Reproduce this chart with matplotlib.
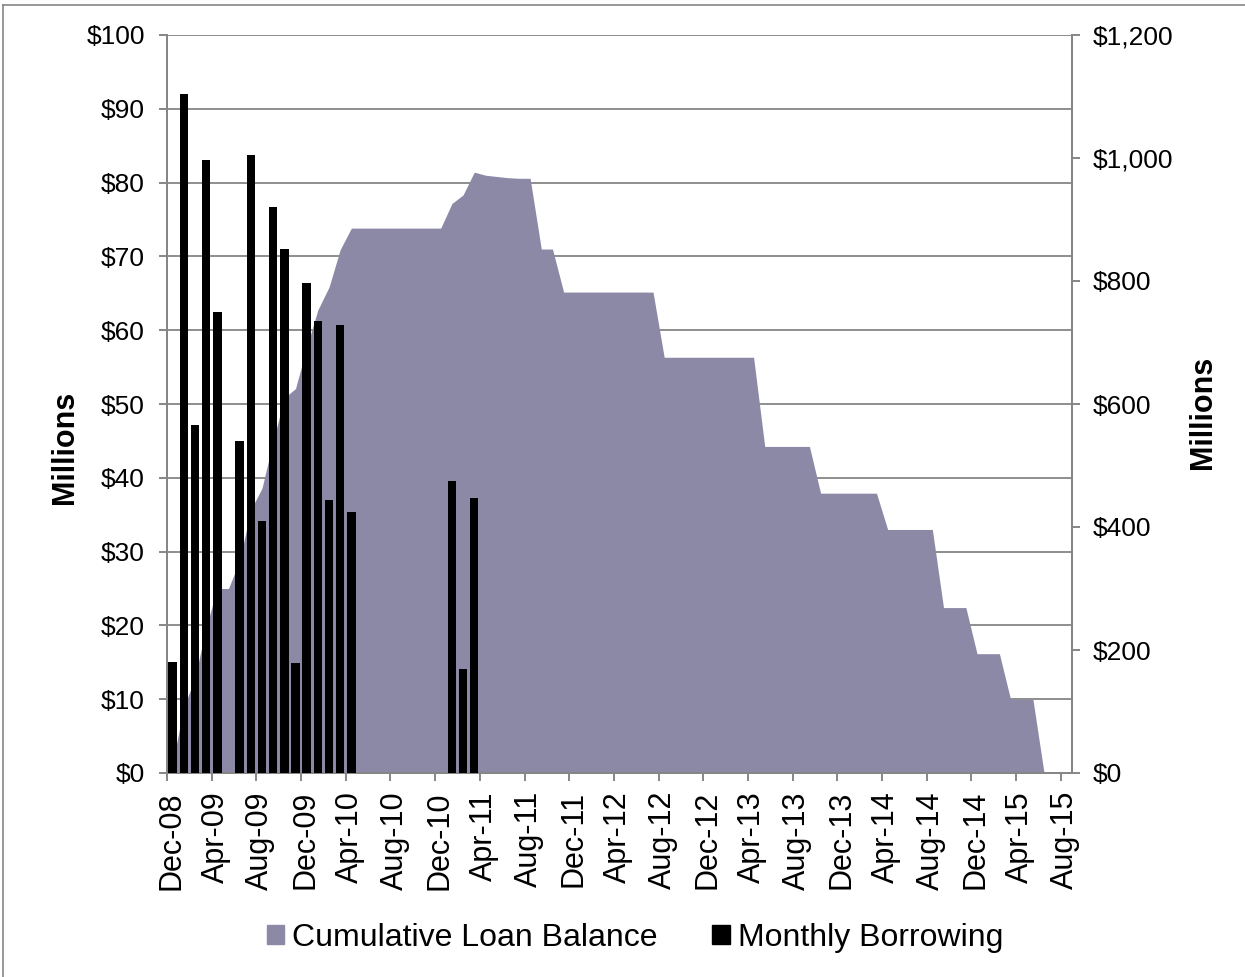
import matplotlib
matplotlib.use('Agg')
import matplotlib.pyplot as plt
import matplotlib.transforms as mtransforms
from matplotlib.patches import Patch
from matplotlib.lines import Line2D

plt.rcParams['font.family'] = ['Liberation Sans', 'DejaVu Sans']

#Month labels, Dec-08 .. Aug-15 (81 months)
month_names = ['Jan', 'Feb', 'Mar', 'Apr', 'May', 'Jun',
               'Jul', 'Aug', 'Sep', 'Oct', 'Nov', 'Dec']
months = []
for k in range(81):
    m = (11 + k) % 12
    y = 8 + (11 + k) // 12
    months.append('%s-%02d' % (month_names[m], y))

#Monthly borrowing ($ millions, left axis), 0 = no bar
monthly_borrowing = [15, 92, 47.2, 83, 62.5, 0, 45, 83.7, 34.2, 76.7, 71, 14.9,
                     66.4, 61.2, 37, 60.7, 35.4, 0, 0, 0, 0, 0, 0, 0,
                     0, 39.6, 14.1, 37.3] + [0] * 53

#Cumulative loan balance ($ millions, right axis)
loan_balance = [15, 107, 154, 237, 300, 300, 345, 428, 463, 539, 610, 625,
                692, 753, 790, 851, 886, 886, 886, 886, 886, 886, 886, 886,
                886, 926, 940, 977, 972, 970, 968, 967, 967, 852, 852, 782,
                782, 782, 782, 782, 782, 782, 782, 782, 676, 676, 676, 676,
                676, 676, 676, 676, 676, 531, 531, 531, 531, 531, 455, 455,
                455, 455, 455, 455, 396, 396, 396, 396, 396, 269, 269, 269,
                194, 194, 194, 120, 120, 120, 0, 0, 0]

left_ticks = list(range(0, 101, 10))
right_ticks = list(range(0, 1201, 200))

area_color = '#8C89A6'
axis_color = '#868686'

fig = plt.figure(figsize=(12.45, 9.77), dpi=100)
ax = fig.add_axes([167 / 1245, 1 - 773 / 977, (1072 - 167) / 1245, (773 - 35) / 977])
ax2 = ax.twinx()

x = [i + 0.5 for i in range(len(months))]

#area on the right axis, behind the bars
for v in left_ticks:
    ax2.axhline(v * 12, color=axis_color, lw=1.3, zorder=0.5)
ax2.fill_between(x, loan_balance, 0, color=area_color, lw=0, zorder=1)
ax2.set_ylim(0, 1200)
ax2.set_yticks(right_ticks)
ax2.set_yticklabels(['${:,}'.format(v) for v in right_ticks])

bar_x = [x[i] for i in range(len(x)) if monthly_borrowing[i] > 0]
bar_h = [v for v in monthly_borrowing if v > 0]
ax.bar(bar_x, bar_h, width=0.76, color='black', zorder=3)
ax.set_zorder(ax2.get_zorder() + 1)
ax.patch.set_visible(False)
ax.set_ylim(0, 100)
ax.set_yticks(left_ticks)
ax.set_yticklabels(['$%d' % v for v in left_ticks])

ax.set_xlim(0, 81)
ax.set_xticks(range(0, 81, 4))
ax.set_xticklabels([months[i] for i in range(0, 81, 4)], rotation=90)

for a in (ax, ax2):
    a.spines['top'].set_visible(False)
    for s in a.spines.values():
        s.set_color(axis_color)
        s.set_linewidth(1.4)
    a.tick_params(axis='both', colors=axis_color, labelcolor='black',
                  length=6, width=1.4, direction='out')
    a.tick_params(axis='y', labelsize=19)
ax.tick_params(axis='x', labelsize=22, pad=7)
ax.tick_params(axis='y', pad=10)
ax2.tick_params(axis='y', pad=9)

offset = mtransforms.ScaledTranslation(4 / 100, 0, fig.dpi_scale_trans)
for lab in ax.get_xticklabels():
    lab.set_transform(lab.get_transform() + offset)

fig.text(65 / 1245, 1 - 447 / 977, 'Millions', rotation=90, fontsize=22,
         fontweight='bold', ha='center', va='center')
fig.text(1203 / 1245, 1 - 412 / 977, 'Millions', rotation=90, fontsize=22,
         fontweight='bold', ha='center', va='center')

#legend
handles = [Patch(color=area_color, label='Cumulative Loan Balance'),
           Patch(color='black', label='Monthly Borrowing')]
fig.legend(handles=handles, loc='center', bbox_to_anchor=(635 / 1245, 1 - 938 / 977),
           ncol=2, frameon=False, fontsize=23, handlelength=0.55, handleheight=0.55,
           handletextpad=0.25, columnspacing=1.7)

#chart border
fig.add_artist(Line2D([3 / 1245, 3 / 1245], [0, 1 - 5 / 977], color=axis_color,
                      lw=1.2, transform=fig.transFigure))
fig.add_artist(Line2D([3 / 1245, 1], [1 - 5 / 977, 1 - 5 / 977], color=axis_color,
                      lw=1.2, transform=fig.transFigure))

fig.savefig('out.png', dpi=100)
